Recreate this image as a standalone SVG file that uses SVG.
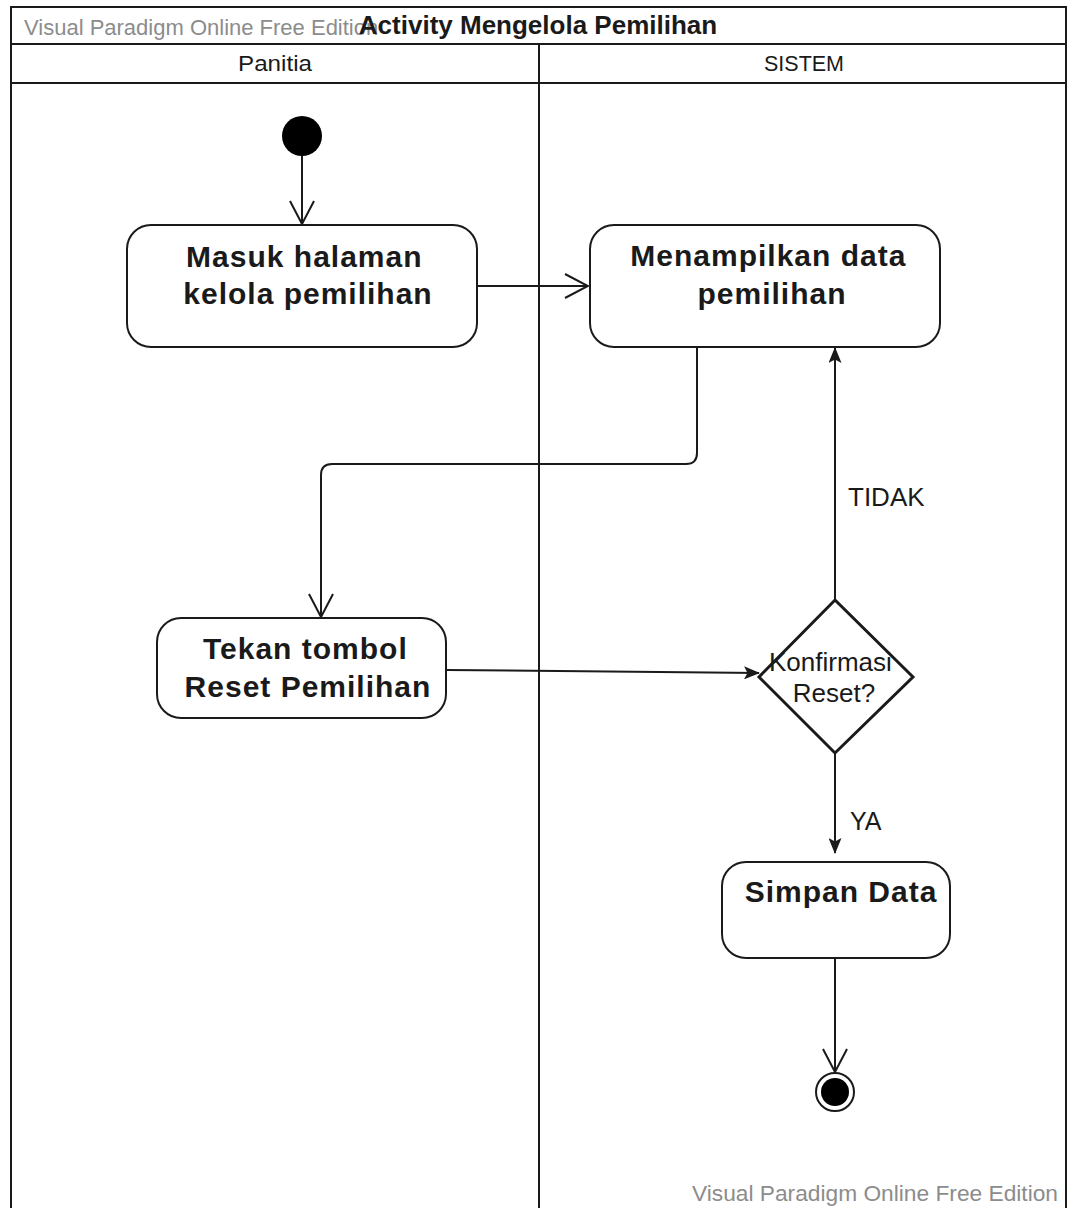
<svg xmlns="http://www.w3.org/2000/svg" width="1076" height="1208" viewBox="0 0 1076 1208">
  <style>
    .frame { fill: none; stroke: #1a1a1a; stroke-width: 2; }
    .node { fill: #ffffff; stroke: #1a1a1a; stroke-width: 2; }
    .decision { fill: #ffffff; stroke: #1a1a1a; stroke-width: 3; }
    .edge { fill: none; stroke: #1a1a1a; stroke-width: 2; }
    .label { font-family: "Liberation Sans", Arial, sans-serif; fill: #1a1a1a; }
    .bold { font-weight: bold; }
    .wm { font-family: "Liberation Sans", Arial, sans-serif; fill: #8c8c8c; font-size: 22px; }
  </style>
  <defs>
    <marker id="openArrow" viewBox="0 0 26 26" refX="24" refY="13" markerWidth="26" markerHeight="26" orient="auto" markerUnits="userSpaceOnUse">
      <path d="M1,1 L24,13 L1,25" fill="none" stroke="#1a1a1a" stroke-width="2"/>
    </marker>
    <marker id="solidArrow" viewBox="0 0 16 13" refX="15" refY="6.5" markerWidth="16" markerHeight="13" orient="auto" markerUnits="userSpaceOnUse">
      <path d="M0,0 L16,6.5 L0,13 L3.5,6.5 Z" fill="#1a1a1a"/>
    </marker>
  </defs>

  <rect width="1076" height="1208" fill="#ffffff"/>

  <!-- swimlane frame -->
  <g id="swimlanes">
    <path class="frame" d="M11,1215 L11,7 L1066,7 L1066,1215"/>
    <line class="frame" x1="11" y1="44" x2="1066" y2="44"/>
    <line class="frame" x1="11" y1="83" x2="1066" y2="83"/>
    <line class="frame" x1="539" y1="44" x2="539" y2="1215"/>
    <text class="wm" x="24" y="35">Visual Paradigm Online Free Edition</text>
    <text class="label bold" x="538" y="34" font-size="26" text-anchor="middle">Activity Mengelola Pemilihan</text>
    <text class="label" x="275" y="71" font-size="22" text-anchor="middle" textLength="74" lengthAdjust="spacingAndGlyphs">Panitia</text>
    <text class="label" x="804" y="71" font-size="22" text-anchor="middle" textLength="80" lengthAdjust="spacingAndGlyphs">SISTEM</text>
  </g>

  <!-- connectors -->
  <g id="connectors">
    <line class="edge" x1="302" y1="156" x2="302" y2="224" marker-end="url(#openArrow)"/>
    <line class="edge" x1="477" y1="286" x2="588" y2="286" marker-end="url(#openArrow)"/>
    <path class="edge" d="M697,347 L697,453 Q697,464 686,464 L332,464 Q321,464 321,475 L321,617" marker-end="url(#openArrow)"/>
    <line class="edge" x1="446" y1="670" x2="759" y2="673" marker-end="url(#solidArrow)"/>
    <line class="edge" x1="835" y1="600" x2="835" y2="348" marker-end="url(#solidArrow)"/>
    <text class="label" x="848" y="506" font-size="26">TIDAK</text>
    <line class="edge" x1="835" y1="753" x2="835" y2="853" marker-end="url(#solidArrow)"/>
    <text class="label" x="850" y="830" font-size="25">YA</text>
    <line class="edge" x1="835" y1="958" x2="835" y2="1072" marker-end="url(#openArrow)"/>
  </g>

  <!-- initial node -->
  <g id="start">
    <circle cx="302" cy="136" r="20" fill="#000000"/>
  </g>

  <!-- actions -->
  <g id="masuk-halaman">
    <rect class="node" x="127" y="225" width="350" height="122" rx="24" ry="24"/>
    <text class="label bold" font-size="30" letter-spacing="1" text-anchor="middle">
      <tspan x="309" y="267">Masuk halaman</tspan>
      <tspan x="308" y="304">kelola pemilihan</tspan>
    </text>
  </g>

  <g id="menampilkan-data">
    <rect class="node" x="590" y="225" width="350" height="122" rx="24" ry="24"/>
    <text class="label bold" font-size="30" letter-spacing="1" text-anchor="middle">
      <tspan x="773" y="266">Menampilkan data</tspan>
      <tspan x="772" y="304">pemilihan</tspan>
    </text>
  </g>

  <g id="tekan-tombol">
    <rect class="node" x="157" y="618" width="289" height="100" rx="24" ry="24"/>
    <text class="label bold" font-size="30" letter-spacing="1" text-anchor="middle">
      <tspan x="310" y="659">Tekan tombol</tspan>
      <tspan x="308" y="697">Reset Pemilihan</tspan>
    </text>
  </g>

  <!-- decision -->
  <g id="konfirmasi-reset">
    <polygon class="decision" points="835,600 913,677 835,753 759,677"/>
    <text class="label" font-size="26" fill="#2a2a2a" text-anchor="middle">
      <tspan x="834" y="671">Konfirmasi</tspan>
      <tspan x="834" y="702">Reset?</tspan>
    </text>
  </g>

  <g id="simpan-data">
    <rect class="node" x="722" y="862" width="228" height="96" rx="24" ry="24"/>
    <text class="label bold" x="841" y="902" font-size="30" letter-spacing="1" text-anchor="middle">Simpan Data</text>
  </g>

  <!-- final node -->
  <g id="end">
    <circle cx="835" cy="1092" r="19" fill="#ffffff" stroke="#1a1a1a" stroke-width="2"/>
    <circle cx="835" cy="1092" r="14" fill="#000000"/>
  </g>

  <text class="wm" x="692" y="1201" textLength="366" lengthAdjust="spacingAndGlyphs">Visual Paradigm Online Free Edition</text>
</svg>
